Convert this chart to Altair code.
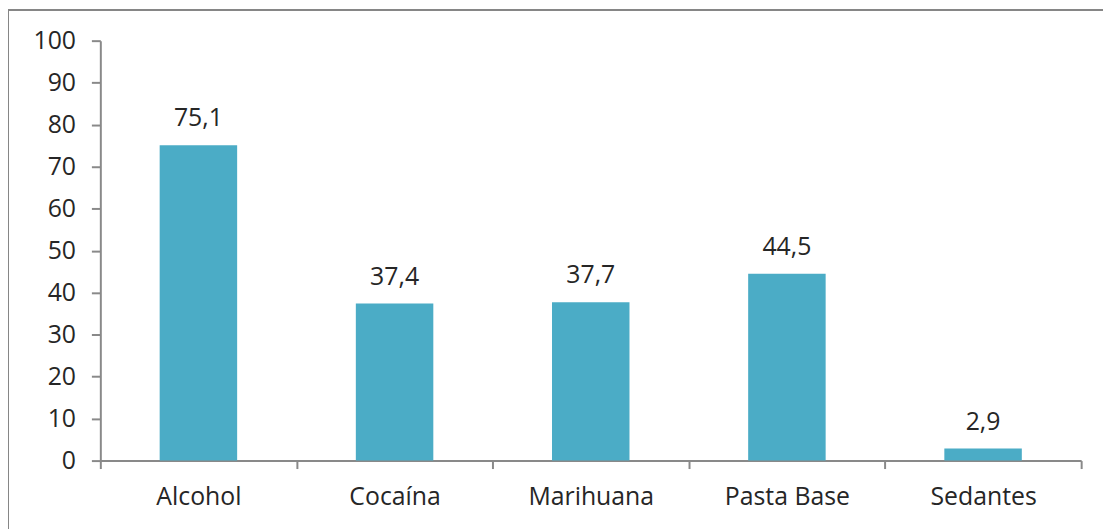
import altair as alt
import pandas as pd

categories = ["Alcohol", "Cocaína", "Marihuana", "Pasta Base", "Sedantes"]
values = [75.1, 37.4, 37.7, 44.5, 2.9]

df = pd.DataFrame({"cat": categories, "val": values})

W, H = 988, 423
PL, PT = 93, 31
FONT = "Open Sans"
FS = 25
AXIS_COLOR = "#898989"
TEXT_COLOR = "#262626"

x_enc = alt.X(
    "cat:N",
    sort=categories,
    scale=alt.Scale(paddingInner=0, paddingOuter=0),
    axis=alt.Axis(
        title=None,
        labelAngle=0,
        labelFont=FONT,
        labelFontSize=FS,
        labelColor=TEXT_COLOR,
        labelPadding=16,
        tickBand="extent",
        tickSize=8,
        tickColor=AXIS_COLOR,
        tickWidth=2,
        domainColor=AXIS_COLOR,
        domainWidth=2,
    ),
)

y_enc = alt.Y(
    "val:Q",
    scale=alt.Scale(domain=[0, 100], nice=False),
    axis=alt.Axis(
        title=None,
        values=list(range(0, 101, 10)),
        grid=False,
        labelFont=FONT,
        labelFontSize=FS,
        labelColor=TEXT_COLOR,
        labelPadding=16,
        tickSize=9,
        tickColor=AXIS_COLOR,
        tickWidth=2,
        domainColor=AXIS_COLOR,
        domainWidth=2,
    ),
)

base = alt.Chart(df)

bars = base.mark_bar(color="#4BACC6", width=alt.RelativeBandSize(0.395)).encode(x=x_enc, y=y_enc)

labels = base.transform_calculate(
    lbl="replace(format(datum.val, '.1f'), '.', ',')"
).mark_text(
    baseline="bottom", dy=-14, font=FONT, fontSize=FS, color=TEXT_COLOR
).encode(x=x_enc, y=y_enc, text="lbl:N")

border = alt.Chart(pd.DataFrame({"a": [0]})).mark_rect(
    filled=False, stroke="#868686", strokeWidth=2, clip=False
).encode(
    x=alt.value(-PL + 0),
    x2=alt.value(W + 200),
    y=alt.value(-PT + 0),
    y2=alt.value(H + 200),
)

chart = alt.layer(bars, labels, border).properties(
    width=W,
    height=H,
    background="white",
    autosize=alt.AutoSizeParams(type="none"),
    padding={"left": PL, "top": PT, "right": 22, "bottom": 67},
).configure_view(stroke=None)

chart.save("out.html", embed_options={"renderer": "svg", "actions": False})
